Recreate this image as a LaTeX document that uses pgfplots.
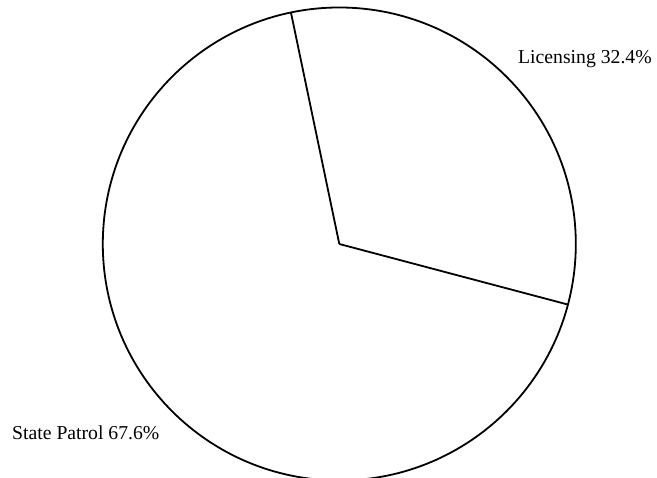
\documentclass[border=0pt]{standalone}
\usepackage{pgfplots}
\pgfplotsset{compat=1.18}
\usepackage{fontspec}
\setmainfont{Liberation Serif}
\begin{document}
\begin{tikzpicture}[x=1pt,y=1pt]
\pgfmathsetmacro{\licensing}{32.4}
\pgfmathsetmacro{\patrol}{67.6}
\pgfmathsetmacro{\startang}{101.8}
\pgfmathsetmacro{\endang}{\startang-\licensing*3.6}
\begin{axis}[
  at={(0,0)}, anchor=south west,
  scale only axis, width=657pt, height=478pt,
  xmin=0, xmax=657, ymin=0, ymax=478,
  hide axis, clip=false]
  \addplot[draw=none, forget plot] coordinates {(339.3,234)};
  \draw[line width=1.8pt] (axis cs:339.3,234) circle[radius=236.5];
  \draw[line width=1.8pt] (axis cs:339.3,234) -- ++(\startang:236.5);
  \draw[line width=1.8pt] (axis cs:339.3,234) -- ++(\endang:236.5);
  \node[anchor=base west, inner sep=0pt, font=\fontsize{19.7}{23}\selectfont] at (axis cs:518,414) {Licensing 32.4\%};
  \node[anchor=base west, inner sep=0pt, font=\fontsize{19.7}{23}\selectfont] at (axis cs:12,38) {State Patrol 67.6\%};
\end{axis}
\pgfresetboundingbox
\useasboundingbox (0,0) rectangle (657,478);
\end{tikzpicture}
\end{document}
